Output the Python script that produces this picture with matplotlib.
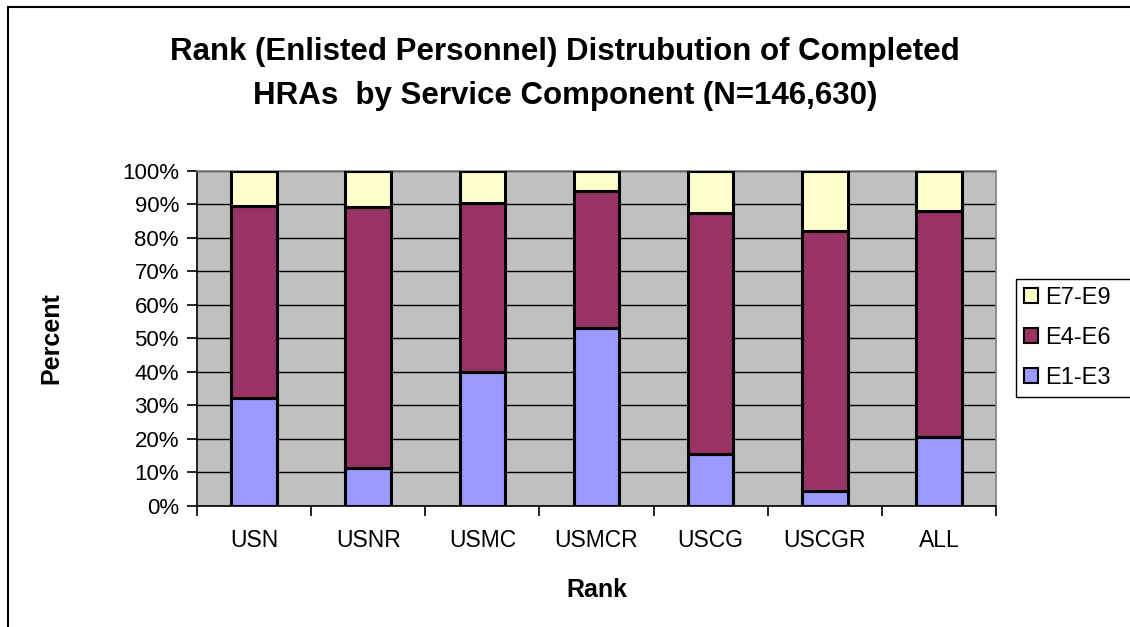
import matplotlib
matplotlib.use('Agg')
import matplotlib.pyplot as plt
import numpy as np
from matplotlib.patches import Rectangle, Patch
from matplotlib.ticker import MultipleLocator, PercentFormatter

# Values (percent of each component)
components = ['USN', 'USNR', 'USMC', 'USMCR', 'USCG', 'USCGR', 'ALL']
e1_e3 = [32.2, 11.4, 40.0, 52.9, 15.3, 4.4, 20.6]
e4_e6 = [57.2, 77.7, 50.5, 40.9, 72.0, 77.6, 67.4]
e7_e9 = [10.6, 10.9, 9.5, 6.2, 12.7, 18.0, 12.0]

series_names = ['E1-E3', 'E4-E6', 'E7-E9']
series_colors = ['#9999FF', '#993366', '#FFFFCC']

W, H = 1130, 627
fig = plt.figure(figsize=(W / 100, H / 100), dpi=100)
fig.patch.set_facecolor('white')
plt.rcParams['font.family'] = ['Liberation Sans', 'DejaVu Sans']

# Outer chart frame (right and bottom edges lie outside the crop)
fig.patches.append(Rectangle((8 / W, -0.2), 1.5, 1 - 7 / H + 0.2,
                             transform=fig.transFigure, fill=False,
                             edgecolor='black', linewidth=1.5))

ax = fig.add_axes([197 / W, 1 - 505.7 / H, (996 - 197) / W, (505.7 - 170.7) / H])
ax.set_facecolor('#C0C0C0')

x = np.arange(len(components))
bottom = np.zeros(len(components))
for vals, name, color in zip([e1_e3, e4_e6, e7_e9], series_names, series_colors):
    ax.bar(x, vals, width=0.4, bottom=bottom, color=color, edgecolor='black',
           linewidth=2.2, label=name, zorder=3)
    bottom += np.array(vals)

ax.set_xlim(-0.5, len(components) - 0.5)
ax.set_ylim(0, 100)
ax.yaxis.set_major_locator(MultipleLocator(10))
ax.yaxis.set_major_formatter(PercentFormatter(decimals=0))
ax.grid(axis='y', color='black', linewidth=1.0, zorder=1)
ax.set_axisbelow(True)

# Category ticks sit between the bars, labels at the bar centres
ax.set_xticks(np.arange(len(components) + 1) - 0.5)
ax.set_xticklabels([])
ax.set_xticks(x, minor=True)
ax.set_xticklabels(components, minor=True, fontsize=16.5)
ax.tick_params(axis='x', which='major', direction='out', length=7, width=1.2, color='black')
ax.tick_params(axis='x', which='minor', length=0, pad=17)
ax.tick_params(axis='y', direction='out', length=7, width=1.2, labelsize=16, pad=6)

for side in ['top', 'right']:
    ax.spines[side].set_color('#808080')
    ax.spines[side].set_linewidth(1.2)
for side in ['left', 'bottom']:
    ax.spines[side].set_color('black')
    ax.spines[side].set_linewidth(1.2)

fig.text(0.5, 1 - 74 / H,
         'Rank (Enlisted Personnel) Distrubution of Completed\nHRAs  by Service Component (N=146,630)',
         ha='center', va='center', fontsize=22.5, fontweight='bold', linespacing=1.6)
fig.text(51 / W, 1 - 338 / H, 'Percent', rotation=90, ha='center', va='center',
         fontsize=18, fontweight='bold')
fig.text(597 / W, 1 - 590 / H, 'Rank', ha='center', va='center',
         fontsize=18, fontweight='bold')

# Legend box runs past the right edge of the crop, so draw its frame by hand
fig.patches.append(Rectangle((1016 / W, 1 - 397 / H), 0.2, 118 / H,
                             transform=fig.transFigure, facecolor='white',
                             edgecolor='black', linewidth=1.0, zorder=5))
handles = [Patch(facecolor=c, edgecolor='black', linewidth=1.5, label=n)
           for n, c in zip(series_names, series_colors)][::-1]
leg = fig.legend(handles=handles, loc='center left',
                 bbox_to_anchor=(1019 / W, 1 - 338 / H), fontsize=17,
                 frameon=False, handlelength=0.6, handleheight=0.6,
                 handletextpad=0.3, labelspacing=0.75, borderaxespad=0,
                 borderpad=0.2)
leg.set_zorder(6)

fig.savefig('out.png', dpi=100)
